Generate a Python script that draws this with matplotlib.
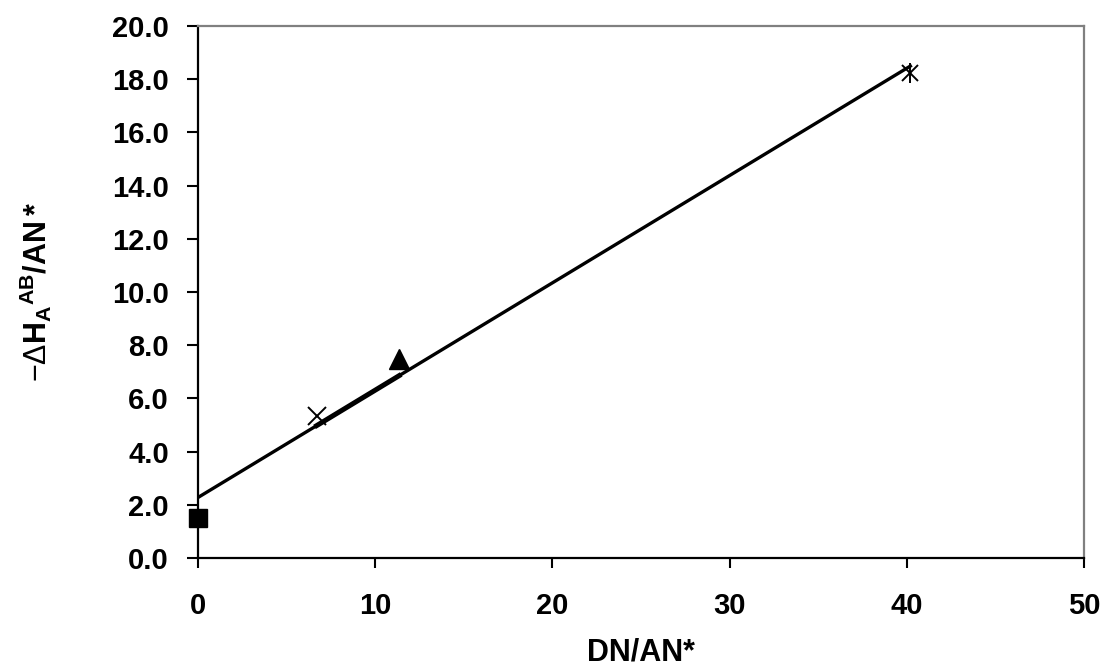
import numpy as np
import matplotlib
matplotlib.use("Agg")
import matplotlib.pyplot as plt

plt.rcParams['font.family'] = ['Liberation Sans', 'DejaVu Sans']
plt.rcParams['mathtext.fontset'] = 'custom'
plt.rcParams['mathtext.rm'] = 'Liberation Sans'
plt.rcParams['mathtext.bf'] = 'Liberation Sans:bold'
plt.rcParams['mathtext.it'] = 'Liberation Sans:italic'

# donor/acceptor ratio vs enthalpy ratio, one point per system
x_square, y_square = [0.0], [1.5]
x_cross, y_cross = [6.7], [5.35]
x_tri, y_tri = [11.35], [7.5]
x_star, y_star = [40.2], [18.25]

x_all = np.array(x_square + x_cross + x_tri + x_star)
y_all = np.array(y_square + y_cross + y_tri + y_star)

# linear trend line over all points
slope, icpt = np.polyfit(x_all, y_all, 1)

fig = plt.figure(figsize=(11.04, 6.67), dpi=100)
ax = fig.add_axes([0.1793, 0.1634, 0.8026, 0.7976])

xs = np.array([x_all.min(), x_all.max()])
ax.plot(xs, icpt + slope * xs, color='black', lw=2.4, zorder=2)
xs2 = np.array([x_cross[0], x_tri[0]])
ax.plot(xs2, icpt + slope * xs2, color='black', lw=3.6, zorder=2)

ax.plot(x_square, y_square, 's', color='black', ms=13.5, zorder=3, clip_on=False)
ax.plot(x_cross, y_cross, 'x', color='black', ms=13, mew=1.4, zorder=3)
ax.plot(x_tri, y_tri, '^', color='black', ms=14, zorder=3)
ax.plot(x_star, y_star, 'x', color='black', ms=12, mew=1.4, zorder=3)
ax.plot(x_star, y_star, '|', color='black', ms=15, mew=1.4, zorder=3)

ax.set_xlim(0, 50)
ax.set_ylim(0, 20)
ax.set_xticks(np.arange(0, 51, 10))
ax.set_yticks(np.arange(0, 20.1, 2))
ax.set_yticklabels(['%.1f' % v for v in np.arange(0, 20.1, 2)])

for s in ['left', 'bottom']:
    ax.spines[s].set_color('black')
    ax.spines[s].set_linewidth(1.6)
for s in ['top', 'right']:
    ax.spines[s].set_color('#808080')
    ax.spines[s].set_linewidth(1.6)

ax.tick_params(axis='y', length=8, width=1.5, pad=13, labelsize=21)
ax.tick_params(axis='x', length=7.5, width=1.5, pad=17, labelsize=21)
for lab in ax.get_xticklabels() + ax.get_yticklabels():
    lab.set_fontweight('bold')

ax.set_xlabel('DN/AN*', fontsize=22, fontweight='bold')
ax.xaxis.set_label_coords(0.5, -0.15)
ax.set_ylabel(r'$-\Delta\mathbf{H_A{}^{AB}/AN*}$', fontsize=22)
ax.yaxis.set_label_coords(-0.163, 0.5)

fig.savefig('out.png', dpi=100)
